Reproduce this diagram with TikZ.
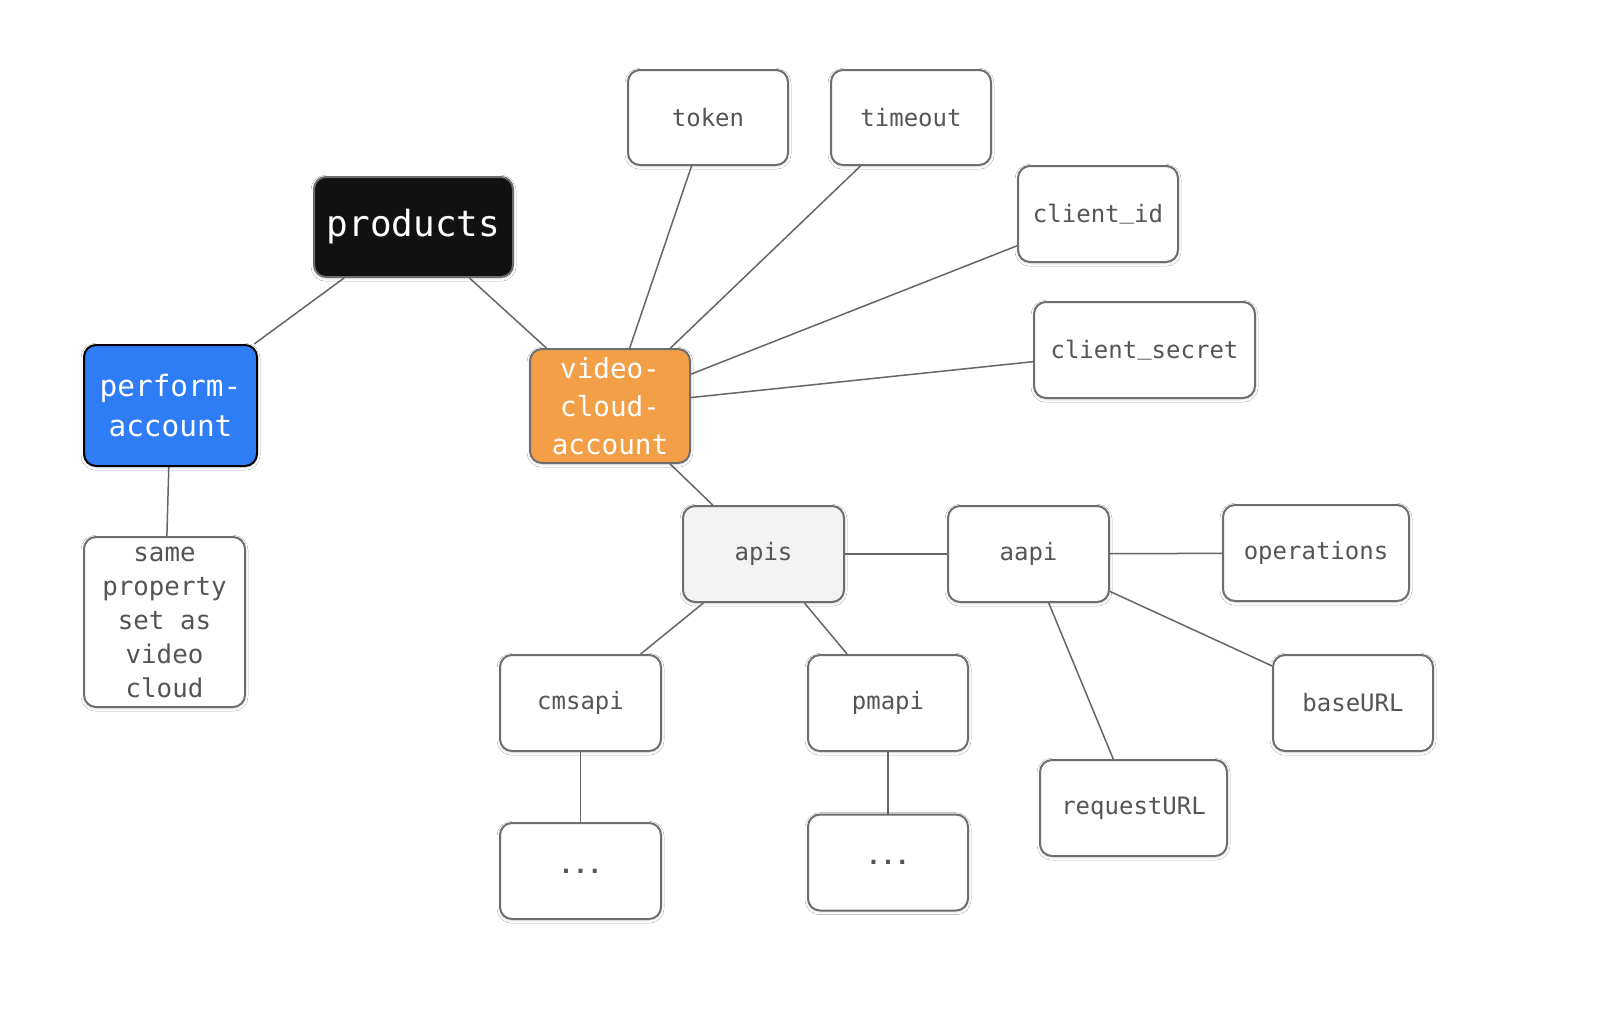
\documentclass[tikz,border=0pt]{standalone}
\usepackage{fontspec}
\newfontfamily\monofam{DejaVu Sans Mono}
\usetikzlibrary{backgrounds,shadows.blur}
\definecolor{edgegray}{HTML}{666666}
\definecolor{txtgray}{HTML}{555555}
\definecolor{boxgray}{HTML}{6E6E6E}
\definecolor{blackbox}{HTML}{111111}
\definecolor{bluebox}{HTML}{2F7DF6}
\definecolor{orangebox}{HTML}{F29F48}
\definecolor{apisfill}{HTML}{F3F3F3}
\newcommand{\usc}{\raisebox{0.16em}{\_}}
\tikzset{
  base/.style={rectangle, rounded corners=6pt, line width=1pt, align=center,
    inner sep=0pt, minimum width=80pt, minimum height=48pt,
    blur shadow={shadow blur steps=4, shadow xshift=0pt, shadow yshift=-0.6pt, shadow opacity=15, shadow blur radius=1.5pt}},
  leaf/.style={base, draw=boxgray, fill=white, text=txtgray,
    font=\monofam\fontsize{12}{15}\selectfont},
  blackstyle/.style={base, draw=boxgray, fill=blackbox, text=white,
    font=\monofam\fontsize{18}{22}\selectfont},
  bluestyle/.style={base, draw=black, fill=bluebox, text=white,
    font=\monofam\fontsize{14.7}{19.9}\selectfont},
  orangestyle/.style={base, draw=boxgray, fill=orangebox, text=white,
    font=\monofam\fontsize{13.8}{19.1}\selectfont},
  link/.style={draw=edgegray, line width=0.75pt}
}
\begin{document}
\begin{tikzpicture}[x=0.5pt,y=-0.5pt]
\useasboundingbox (0,0) rectangle (1599,1030);
\node[blackstyle, minimum width=99.5pt, minimum height=50pt] (products) at (413.5,227) {products};
\node[orangestyle, minimum width=80pt, minimum height=57pt] (video) at (610,406) {video-\\cloud-\\account};
\node[bluestyle, minimum width=86.5pt, minimum height=60.5pt] (perform) at (170.5,405.5) {perform-\\account};
\node[leaf, minimum width=80.5pt, minimum height=85pt, font=\monofam\fontsize{12.9}{17}\selectfont] (same) at (164.5,622) {same\\property\\set as\\video\\cloud};
\node[leaf, fill=apisfill, minimum width=80.5pt] (apis) at (763.5,554) {apis};
\node[leaf, minimum width=80.5pt] (aapi) at (1028.5,554) {aapi};
\node[leaf, minimum width=80.5pt] (cmsapi) at (580.5,703) {cmsapi};
\node[leaf, minimum width=80.5pt, font=\monofam\bfseries\fontsize{12}{15}\selectfont] (dotsa) at (580.5,871) {\raisebox{-0.2em}{...}};
\node[leaf] (pmapi) at (888,703) {pmapi};
\node[leaf, font=\monofam\bfseries\fontsize{12}{15}\selectfont] (dotsb) at (888,862.5) {\raisebox{-0.2em}{...}};
\node[leaf, minimum height=47.5pt] (token) at (708,117.5) {token};
\node[leaf, minimum height=47.5pt] (timeout) at (911,117.5) {timeout};
\node[leaf] (clientid) at (1098,214) {client\usc id};
\node[leaf, minimum width=110.5pt] (clientsecret) at (1144.5,350) {client\usc secret};
\node[leaf, minimum width=93pt] (operations) at (1316,553) {operations};
\node[leaf] (baseurl) at (1353,703) {baseURL};
\node[leaf, minimum width=93.5pt] (requesturl) at (1133.5,808) {requestURL};
\begin{scope}[on background layer]
\fill[white] (0,0) rectangle (1599,1030);
\draw[link] (products) -- (perform);
\draw[link] (products) -- (video);
\draw[link] (perform) -- (same);
\draw[link] (video) -- (token);
\draw[link] (video) -- (timeout);
\draw[link] (video) -- (clientid);
\draw[link] (video) -- (clientsecret);
\draw[link] (video) -- (apis);
\draw[link] (apis) -- (aapi);
\draw[link] (apis) -- (cmsapi);
\draw[link] (apis) -- (pmapi);
\draw[link] (cmsapi) -- (dotsa);
\draw[link] (pmapi) -- (dotsb);
\draw[link] (aapi) -- (operations);
\draw[link] (aapi) -- (baseurl);
\draw[link] (aapi) -- (requesturl);
\end{scope}
\end{tikzpicture}
\end{document}
